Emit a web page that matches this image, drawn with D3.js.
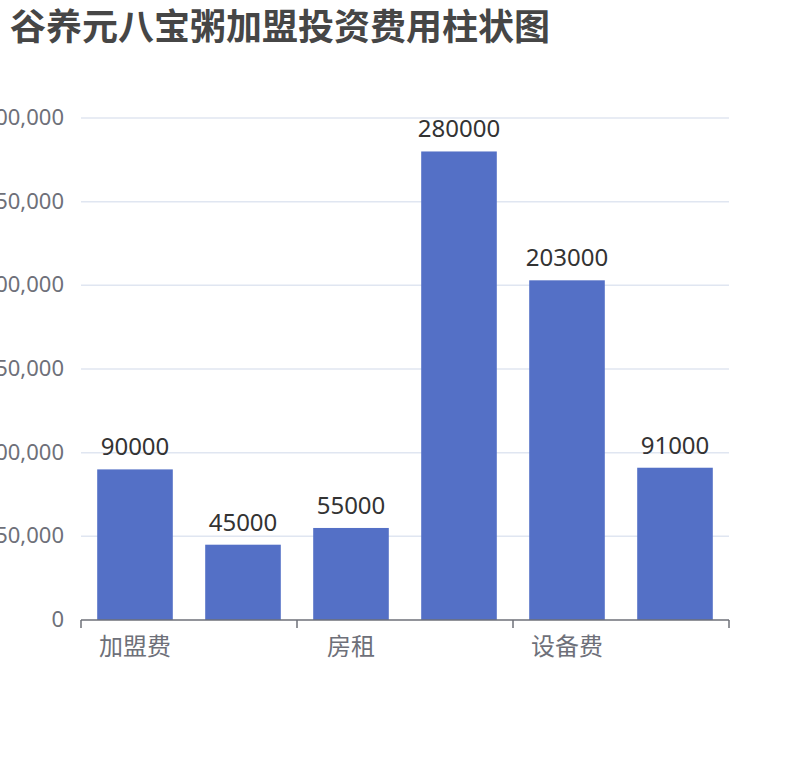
<!DOCTYPE html>
<html><head><meta charset="utf-8">
<script src="https://cdn.jsdelivr.net/npm/d3@7"></script>
<style>
body{margin:0;background:#fff;}
text{font-family:"Noto Sans","Noto Sans CJK SC",sans-serif;}
</style></head>
<body>
<svg id="c" width="810" height="760"></svg>
<script>
const titleText = "谷养元八宝粥加盟投资费用柱状图";
const categories = ["加盟费","保证金","房租","装修费","设备费","流动资金"];
const values = [90000,45000,55000,280000,203000,91000];
const yTicks = [0,50000,100000,150000,200000,250000,300000];

const svg = d3.select("#c");
const gLeft = 81, gRight = 729, gTop = 118, gBottom = 620;

svg.append("text").attr("x",10).attr("y",40)
  .attr("font-size",36).attr("font-weight","bold").attr("fill","#464646")
  .text(titleText);

const x = d3.scaleBand().domain(categories).range([gLeft,gRight]).paddingInner(0.3).paddingOuter(0.15);
const y = d3.scaleLinear().domain([0,300000]).range([gBottom,gTop]);

// grid
svg.append("g").selectAll("line").data(yTicks.filter(d=>d>0)).join("line")
  .attr("x1",gLeft).attr("x2",gRight).attr("y1",d=>y(d)).attr("y2",d=>y(d))
  .attr("stroke","#E0E6F1").attr("stroke-width",1.5);

// y labels
const fmt = d3.format(",");
svg.append("g").selectAll("text").data(yTicks).join("text")
  .attr("x",64).attr("y",d=>y(d)+7).attr("text-anchor","end")
  .attr("font-size",22).attr("fill","#6E7079").text(d=>fmt(d));

// bars
svg.append("g").selectAll("rect").data(values).join("rect")
  .attr("x",(d,i)=>x(categories[i])).attr("width",x.bandwidth())
  .attr("y",d=>y(d)).attr("height",d=>gBottom-y(d)).attr("fill","#5470C6");

// value labels
svg.append("g").selectAll("text").data(values).join("text")
  .attr("x",(d,i)=>x(categories[i])+x.bandwidth()/2).attr("y",d=>y(d)-14)
  .attr("text-anchor","middle").attr("font-size",24).attr("fill","#333").text(d=>d);

// x axis
svg.append("line").attr("x1",gLeft).attr("x2",gRight).attr("y1",gBottom).attr("y2",gBottom)
  .attr("stroke","#6E7079").attr("stroke-width",1.5);
const step = x.step();
const tickPos = categories.map((c,i)=>i).filter(i=>i%2===0).map(i=>x(categories[i]) - x.paddingInner()*step/2);
tickPos.push(gRight);
svg.append("g").selectAll("line").data(tickPos).join("line")
  .attr("x1",d=>d).attr("x2",d=>d).attr("y1",gBottom).attr("y2",gBottom+8)
  .attr("stroke","#6E7079").attr("stroke-width",1.5);
svg.append("g").selectAll("text").data(categories.filter((c,i)=>i%2===0)).join("text")
  .attr("x",d=>x(d)+x.bandwidth()/2).attr("y",655).attr("text-anchor","middle")
  .attr("font-size",24).attr("fill","#6E7079").text(d=>d);
</script>
</body></html>
